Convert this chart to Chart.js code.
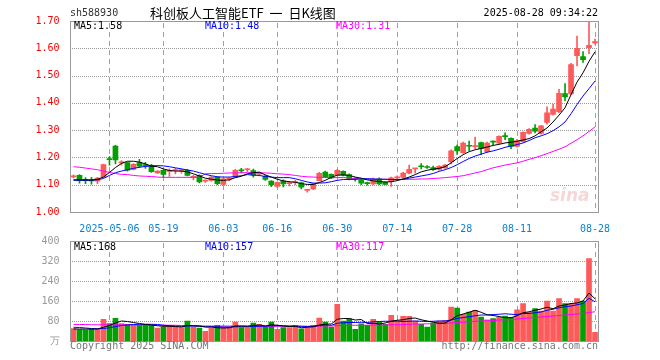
<!DOCTYPE html>
<html><head><meta charset="utf-8">
<script src="https://cdn.jsdelivr.net/npm/chart.js@4.4.0/dist/chart.umd.min.js"></script>
<style>
body{margin:0;background:#fff;width:660px;height:360px;position:relative;overflow:hidden;font-family:'DejaVu Sans Mono',monospace;}
.t{position:absolute;white-space:nowrap;font-size:10px;line-height:12px;font-family:'DejaVu Sans Mono',monospace;z-index:2;}
canvas{position:absolute;left:0;z-index:1;}
#c1{top:0;}
#c2{top:232px;}
.gh{position:absolute;height:1px;z-index:0;background:repeating-linear-gradient(to right,#999 0px,#999 1px,transparent 1px,transparent 2px);}
.gv{position:absolute;width:1px;z-index:0;background:repeating-linear-gradient(to bottom,#a0a0a0 0px,#a0a0a0 5px,transparent 5px,transparent 9px);}
</style></head><body>
<canvas id="c1" width="660" height="232"></canvas>
<canvas id="c2" width="660" height="128"></canvas>
<div class="t" style="left:70px;top:7px;color:#333;">sh588930</div>
<div class="t" style="left:150px;top:4px;font-size:13px;line-height:17px;word-spacing:3px;font-family:'Noto Sans CJK SC',sans-serif;color:#000;">科创板人工智能ETF 一 日K线图</div>
<div class="t" style="right:62px;top:7px;color:#000;">2025-08-28 09:34:22</div>
<div class="t" style="left:74px;top:20px;color:#000;">MA5:1.58</div>
<div class="t" style="left:205px;top:20px;color:#0000ff;">MA10:1.48</div>
<div class="t" style="left:336px;top:20px;color:#ff00ff;">MA30:1.31</div>
<div class="t" style="left:74px;top:241px;color:#000;">MA5:168</div>
<div class="t" style="left:205px;top:241px;color:#0000ff;">MA10:157</div>
<div class="t" style="left:336px;top:241px;color:#ff00ff;">MA30:117</div>
<div class="t" style="left:70px;top:340px;color:#777;">Copyright 2025 SINA.COM</div>
<div class="t" style="right:62px;top:340px;color:#777;">http://finance.sina.com.cn</div>
<div class="t" style="left:550px;top:186px;font-size:17px;line-height:18px;font-style:italic;font-weight:bold;font-family:'DejaVu Sans',sans-serif;color:rgba(225,140,140,0.35);">sina</div>
<script>
const dates=['04-23','04-24','04-25','04-28','04-29','04-30','05-06','05-07','05-08','05-09','05-12','05-13','05-14','05-15','05-16','05-19','05-20','05-21','05-22','05-23','05-26','05-27','05-28','05-29','05-30','06-03','06-04','06-05','06-06','06-09','06-10','06-11','06-12','06-13','06-16','06-17','06-18','06-19','06-20','06-23','06-24','06-25','06-26','06-27','06-30','07-01','07-02','07-03','07-04','07-07','07-08','07-09','07-10','07-11','07-14','07-15','07-16','07-17','07-18','07-21','07-22','07-23','07-24','07-25','07-28','07-29','07-30','07-31','08-01','08-04','08-05','08-06','08-07','08-08','08-11','08-12','08-13','08-14','08-15','08-18','08-19','08-20','08-21','08-22','08-25','08-26','08-27','08-28'];
const tickDates=['05-06','05-19','06-03','06-16','06-30','07-14','07-28','08-11','08-28'];
const tickLabels=['2025-05-06','05-19','06-03','06-16','06-30','07-14','07-28','08-11','08-28'];
const priceTicks=[1.10,1.20,1.30,1.40,1.50,1.60];
const volTicks=[80,160,240,320];
const open=[1.129,1.134,1.117,1.116,1.113,1.128,1.195,1.242,1.180,1.181,
1.156,1.181,1.172,1.171,1.143,1.153,1.149,1.152,1.151,1.153,
1.127,1.134,1.113,1.116,1.128,1.101,1.121,1.128,1.153,1.155,
1.152,1.139,1.131,1.113,1.094,1.113,1.104,1.108,1.107,1.079,
1.085,1.115,1.146,1.138,1.135,1.149,1.137,1.121,1.117,1.106,
1.103,1.122,1.109,1.111,1.125,1.127,1.142,1.158,1.169,1.166,
1.163,1.156,1.162,1.184,1.240,1.217,1.244,1.239,1.254,1.221,
1.258,1.252,1.279,1.270,1.240,1.258,1.288,1.308,1.288,1.328,
1.358,1.368,1.434,1.433,1.573,1.570,1.602,1.620];
const high=[1.136,1.137,1.126,1.127,1.127,1.176,1.203,1.244,1.188,1.183,
1.177,1.193,1.182,1.175,1.152,1.155,1.158,1.160,1.158,1.156,
1.134,1.136,1.118,1.130,1.130,1.123,1.126,1.156,1.160,1.160,
1.157,1.146,1.134,1.115,1.111,1.118,1.112,1.116,1.110,1.083,
1.105,1.145,1.150,1.140,1.156,1.151,1.140,1.126,1.120,1.110,
1.124,1.125,1.111,1.128,1.133,1.145,1.172,1.160,1.177,1.170,
1.168,1.170,1.175,1.228,1.245,1.256,1.260,1.275,1.256,1.256,
1.261,1.279,1.290,1.272,1.266,1.294,1.306,1.320,1.318,1.385,
1.395,1.450,1.471,1.545,1.645,1.588,1.695,1.634];
const low=[1.125,1.106,1.104,1.102,1.104,1.127,1.172,1.176,1.172,1.150,
1.154,1.163,1.160,1.145,1.141,1.128,1.130,1.140,1.142,1.132,
1.118,1.107,1.108,1.113,1.100,1.099,1.114,1.126,1.143,1.148,
1.128,1.132,1.116,1.093,1.090,1.092,1.096,1.100,1.085,1.073,
1.082,1.114,1.126,1.122,1.132,1.132,1.118,1.113,1.100,1.098,
1.100,1.100,1.100,1.094,1.120,1.124,1.140,1.142,1.158,1.160,
1.152,1.153,1.160,1.176,1.211,1.215,1.225,1.232,1.210,1.218,
1.246,1.250,1.265,1.232,1.238,1.256,1.285,1.290,1.285,1.322,
1.355,1.364,1.408,1.430,1.535,1.548,1.580,1.615];
const close=[1.131,1.117,1.115,1.114,1.124,1.174,1.192,1.191,1.182,1.153,
1.175,1.168,1.170,1.148,1.150,1.138,1.151,1.154,1.153,1.134,
1.129,1.110,1.115,1.128,1.104,1.122,1.123,1.153,1.151,1.158,
1.135,1.141,1.119,1.100,1.109,1.103,1.106,1.110,1.091,1.081,
1.103,1.142,1.129,1.125,1.153,1.135,1.121,1.119,1.106,1.104,
1.121,1.103,1.101,1.125,1.127,1.143,1.156,1.160,1.166,1.163,
1.155,1.167,1.172,1.224,1.224,1.253,1.241,1.243,1.233,1.253,
1.256,1.277,1.276,1.240,1.262,1.292,1.303,1.296,1.316,1.363,
1.377,1.435,1.422,1.540,1.600,1.558,1.611,1.625];
const ma5=[1.118,1.118,1.118,1.117,1.120,1.128,1.145,1.163,1.178,1.186,
1.186,1.183,1.176,1.168,1.166,1.158,1.152,1.150,1.150,1.147,
1.140,1.132,1.124,1.120,1.117,1.116,1.118,1.126,1.131,1.140,
1.144,1.146,1.136,1.128,1.120,1.114,1.111,1.109,1.104,1.101,
1.101,1.108,1.116,1.127,1.135,1.136,1.134,1.128,1.124,1.118,
1.114,1.112,1.110,1.111,1.115,1.121,1.128,1.137,1.147,1.153,
1.157,1.160,1.166,1.180,1.196,1.210,1.221,1.228,1.233,1.238,
1.244,1.248,1.253,1.256,1.259,1.264,1.269,1.279,1.294,1.308,
1.330,1.355,1.382,1.430,1.476,1.510,1.552,1.587];
const ma10=[1.116,1.116,1.116,1.117,1.118,1.123,1.134,1.144,1.150,1.155,
1.160,1.164,1.167,1.169,1.170,1.169,1.166,1.162,1.158,1.154,
1.150,1.144,1.138,1.133,1.129,1.128,1.128,1.130,1.133,1.137,
1.135,1.134,1.130,1.128,1.126,1.126,1.126,1.122,1.116,1.110,
1.106,1.106,1.107,1.111,1.116,1.119,1.119,1.120,1.122,1.122,
1.121,1.120,1.120,1.119,1.119,1.120,1.124,1.128,1.132,1.136,
1.141,1.149,1.155,1.163,1.173,1.185,1.196,1.205,1.212,1.219,
1.224,1.230,1.237,1.242,1.247,1.253,1.262,1.272,1.279,1.287,
1.298,1.312,1.330,1.360,1.394,1.425,1.452,1.480];
const ma30=[1.166,1.164,1.161,1.158,1.155,1.150,1.145,1.141,1.138,1.137,
1.134,1.132,1.131,1.130,1.128,1.127,1.127,1.127,1.127,1.127,
1.127,1.127,1.140,1.141,1.141,1.142,1.143,1.143,1.144,1.144,
1.144,1.144,1.143,1.142,1.140,1.139,1.137,1.134,1.131,1.129,
1.128,1.127,1.127,1.126,1.126,1.126,1.125,1.122,1.120,1.120,
1.120,1.120,1.120,1.119,1.119,1.119,1.120,1.120,1.121,1.121,
1.123,1.124,1.126,1.128,1.130,1.133,1.138,1.143,1.148,1.155,
1.162,1.167,1.172,1.176,1.180,1.186,1.193,1.199,1.206,1.214,
1.222,1.230,1.239,1.252,1.265,1.279,1.295,1.312];
const vol=[50,46,45,49,49,87,70,91,70,67,
63,63,63,63,52,56,63,56,54,80,
56,52,39,52,63,54,56,76,54,54,
72,67,56,76,47,54,54,63,49,54,
63,92,76,56,147,80,89,47,69,63,
87,76,67,103,80,99,99,80,67,56,
72,80,83,136,132,107,116,123,96,85,
90,95,100,95,125,150,115,130,120,160,
120,170,150,150,170,160,330,35];
const vma5=[48,48,48,48,48,55,62,72,80,78,
74,70,66,64,61,59,59,58,56,62,
61,60,56,56,53,52,53,60,60,59,
62,64,60,65,63,60,58,59,53,55,
57,64,67,68,87,90,90,84,86,70,
71,68,72,79,83,85,90,92,85,80,
75,71,72,85,101,108,115,123,115,105,
102,98,93,93,101,113,117,123,128,135,
129,140,144,150,152,160,192,169];
const vma10=[55,54,52,50,49,50,53,58,62,64,
66,67,67,67,66,63,61,60,59,60,
60,59,57,57,57,56,56,57,57,57,
58,59,59,61,61,61,60,60,59,58,
59,62,64,63,71,73,74,74,75,74,
77,78,79,79,80,78,79,80,79,78,
79,80,80,84,90,94,97,101,104,104,
106,107,109,107,106,110,110,113,116,123,
127,133,137,140,145,150,171,157];
const vma30=[66,66,66,65,65,65,65,65,65,65,
65,64,64,64,64,63,63,63,62,62,
61,61,60,60,60,60,60,60,60,60,
60,60,59,59,59,59,59,59,59,59,
59,60,60,60,62,62,63,63,63,63,
64,64,64,65,65,66,67,68,68,69,
69,70,70,72,74,75,77,79,80,81,
82,84,85,86,88,90,92,94,96,98,
100,102,104,106,108,110,114,117];

const RED='#ff5a5a', GREEN='#00a000';
const colors=close.map((c,i)=>c>=open[i]?RED:GREEN);
const MONO='DejaVu Sans Mono';

const frame={id:'frame',afterDraw(ch){const a=ch.chartArea,c=ch.ctx;c.save();c.strokeStyle='#999';c.lineWidth=1;
  c.strokeRect(Math.round(a.left)-0.5,Math.round(a.top)+0.5,Math.round(a.right)-Math.round(a.left)+1,Math.round(a.bottom)-Math.round(a.top));c.restore();}};

// gridlines: positions taken from the chart's own scales, drawn as page elements behind the canvas
function addGrid(ch,offTop,hTicks){
  const a=ch.chartArea,xs=ch.scales.x,ys=ch.scales.y;
  const L=Math.round(a.left),R=Math.round(a.right),T=Math.round(a.top),B=Math.round(a.bottom);
  hTicks.forEach(v=>{const y=Math.round(ys.getPixelForValue(v));const d=document.createElement('div');d.className='gh';
    d.style.left=(L+1)+'px';d.style.top=(offTop+y)+'px';d.style.width=(R-L-1)+'px';document.body.insertBefore(d,document.body.firstChild);});
  tickDates.forEach(t=>{const x=Math.floor(xs.getPixelForValue(dates.indexOf(t)));const d=document.createElement('div');d.className='gv';
    d.style.left=x+'px';d.style.top=(offTop+T+2)+'px';d.style.height=(B-T-2)+'px';document.body.insertBefore(d,document.body.firstChild);});
}

function xScale(show){return {type:'category',offset:true,
 grid:{display:false},border:{display:false},
 ticks:{display:show,autoSkip:false,maxRotation:0,minRotation:0,padding:3,color:'#0a7fd0',font:{family:MONO,size:10},
  callback:(v,i)=>{const j=tickDates.indexOf(dates[i]);return j>=0?tickLabels[j]:'';}},
 afterFit:s=>{s.height=show?20:0;}};}

function line(d,col){return {type:'line',data:d,borderColor:col,borderWidth:1,pointRadius:0,tension:0,fill:false,order:1};}

const priceChart=new Chart(document.getElementById('c1'),{type:'bar',
 data:{labels:dates,datasets:[
  line(ma5,'#000000'),line(ma10,'#0000ff'),line(ma30,'#ff00ff'),
  {data:low.map((l,i)=>[l,high[i]]),backgroundColor:colors,barThickness:1,grouped:false,borderWidth:0,order:3},
  {data:open.map((o,i)=>[o,close[i]]),backgroundColor:colors,barThickness:5,minBarLength:1,grouped:false,borderWidth:0,order:2}
 ]},
 options:{responsive:false,animation:false,events:[],
  layout:{padding:{top:21,right:62,left:0.5,bottom:0}},
  plugins:{legend:{display:false},tooltip:{enabled:false}},
  scales:{x:xScale(true),
   y:{min:1.0,max:1.7,afterFit:s=>{s.width=70;},
    grid:{display:false},border:{display:false},
    ticks:{stepSize:0.1,padding:3,color:'#ff0000',font:{family:MONO,size:10},callback:v=>Number(v).toFixed(2)}}}},
 plugins:[frame]});

const volChart=new Chart(document.getElementById('c2'),{type:'bar',
 data:{labels:dates,datasets:[
  line(vma5,'#000000'),line(vma10,'#0000ff'),line(vma30,'#ff00ff'),
  {data:vol,backgroundColor:colors,barThickness:5,grouped:false,borderWidth:0,order:2}
 ]},
 options:{responsive:false,animation:false,events:[],
  layout:{padding:{top:8,right:62,left:0.5,bottom:19}},
  plugins:{legend:{display:false},tooltip:{enabled:false}},
  scales:{x:xScale(false),
   y:{min:0,max:400,afterFit:s=>{s.width=70;},
    grid:{display:false},border:{display:false},
    ticks:{stepSize:80,padding:3,color:'#999',font:{family:MONO,size:10},callback:v=>v===0?'万':String(v)}}}},
 plugins:[frame]});

addGrid(priceChart,0,priceTicks);
addGrid(volChart,232,volTicks);
</script>
</body></html>
